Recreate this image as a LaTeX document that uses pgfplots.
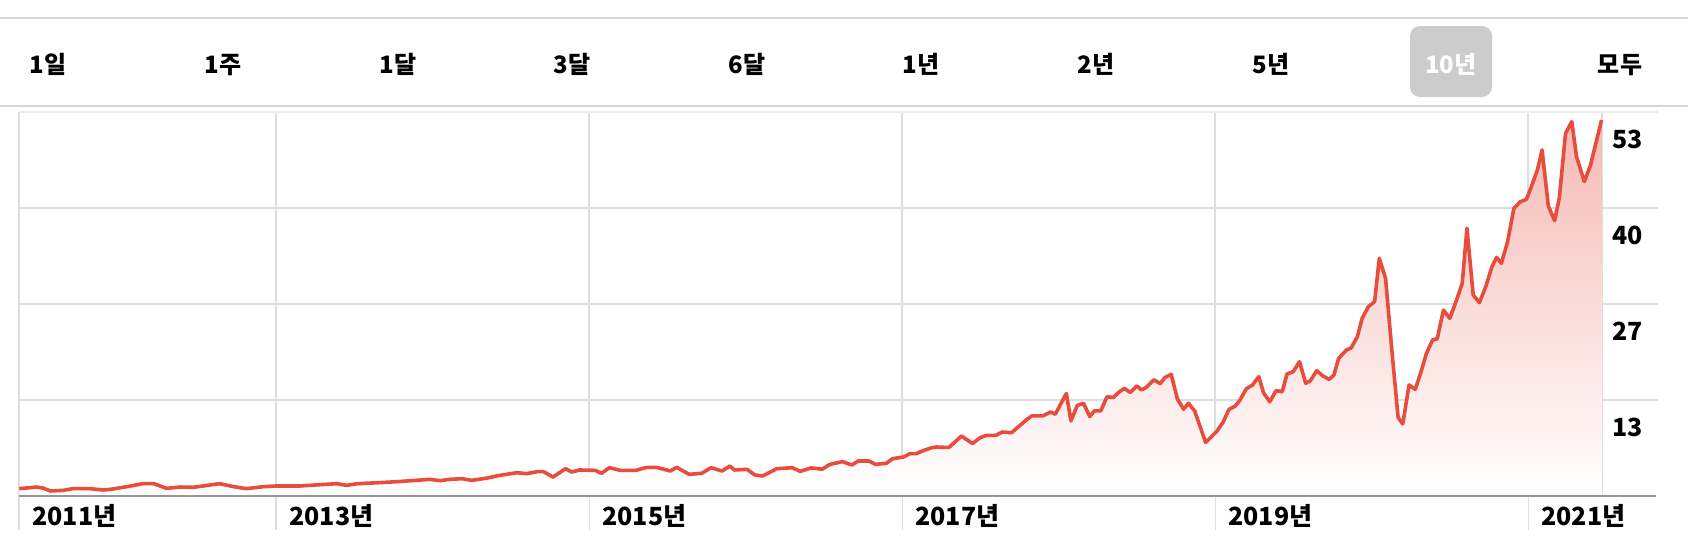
\documentclass[border=0pt]{standalone}
\usepackage{pgfplots}
\pgfplotsset{compat=1.18}
\usepackage{pgfplotstable}
\usepackage{fontspec}
\setmainfont{Noto Sans CJK KR}
\definecolor{linec}{RGB}{232,76,61}
\definecolor{gridc}{RGB}{222,222,222}
\definecolor{topc}{RGB}{236,236,236}
\definecolor{sepc}{RGB}{214,214,214}
\definecolor{basec}{RGB}{150,150,150}
\definecolor{boxc}{RGB}{204,204,204}
\definecolor{filltop}{RGB}{244,186,180}
\pgfplotstableread{
year value
2011.36 1.01
2011.47 1.24
2011.51 1.10
2011.56 0.69
2011.64 0.78
2011.70 1.01
2011.81 1.01
2011.90 0.83
2011.96 0.97
2012.07 1.38
2012.15 1.70
2012.22 1.70
2012.30 1.06
2012.39 1.24
2012.47 1.20
2012.58 1.52
2012.64 1.70
2012.73 1.29
2012.81 1.01
2012.92 1.29
2013.00 1.38
2013.15 1.38
2013.28 1.56
2013.39 1.70
2013.45 1.47
2013.52 1.70
2013.66 1.84
2013.79 2.00
2013.92 2.20
2013.98 2.30
2014.05 2.12
2014.11 2.30
2014.19 2.39
2014.25 2.16
2014.35 2.48
2014.43 2.85
2014.54 3.22
2014.60 3.08
2014.67 3.36
2014.71 3.36
2014.77 2.62
2014.85 3.77
2014.89 3.31
2014.94 3.59
2015.04 3.54
2015.08 3.13
2015.13 3.91
2015.20 3.54
2015.30 3.54
2015.37 3.96
2015.43 3.96
2015.52 3.45
2015.56 3.96
2015.64 2.99
2015.72 3.13
2015.78 3.91
2015.85 3.45
2015.90 4.14
2015.93 3.59
2016.01 3.68
2016.06 2.90
2016.11 2.76
2016.20 3.77
2016.30 3.91
2016.35 3.40
2016.42 3.88
2016.49 3.70
2016.54 4.37
2016.62 4.74
2016.68 4.28
2016.72 4.83
2016.79 4.83
2016.83 4.37
2016.90 4.51
2016.94 5.15
2017.01 5.38
2017.05 5.84
2017.09 5.84
2017.14 6.30
2017.19 6.67
2017.22 6.76
2017.30 6.70
2017.38 8.28
2017.45 7.25
2017.50 8.05
2017.54 8.37
2017.60 8.37
2017.64 8.83
2017.70 8.74
2017.80 10.60
2017.83 11.06
2017.90 11.06
2017.95 11.60
2017.98 11.29
2018.05 14.15
2018.08 10.37
2018.12 12.50
2018.16 12.80
2018.20 10.97
2018.23 11.75
2018.27 11.75
2018.31 13.70
2018.35 13.60
2018.39 14.40
2018.42 14.84
2018.46 14.30
2018.50 15.20
2018.53 14.65
2018.56 14.98
2018.61 16.04
2018.65 15.50
2018.68 16.36
2018.72 16.80
2018.76 13.36
2018.80 11.98
2018.83 12.80
2018.87 11.75
2018.94 7.40
2019.01 8.88
2019.05 10.12
2019.09 11.96
2019.13 12.42
2019.16 13.25
2019.20 14.80
2019.24 15.32
2019.28 16.47
2019.31 14.26
2019.35 13.00
2019.39 14.54
2019.43 14.40
2019.46 16.84
2019.50 17.16
2019.54 18.54
2019.58 15.55
2019.61 15.92
2019.65 17.30
2019.69 16.56
2019.73 16.10
2019.76 16.70
2019.79 19.00
2019.84 20.15
2019.87 20.43
2019.91 22.00
2019.94 24.50
2019.98 26.13
2020.02 26.82
2020.05 32.80
2020.09 30.04
2020.13 20.15
2020.17 10.86
2020.20 9.94
2020.24 15.32
2020.28 14.72
2020.32 17.39
2020.35 19.60
2020.39 21.53
2020.42 21.70
2020.46 25.67
2020.50 24.52
2020.54 26.82
2020.58 29.35
2020.61 36.95
2020.65 27.74
2020.69 26.69
2020.73 28.89
2020.77 31.65
2020.80 32.94
2020.83 32.11
2020.87 35.10
2020.91 39.70
2020.95 40.60
2020.99 40.95
2021.02 42.60
2021.06 45.00
2021.09 47.76
2021.13 40.03
2021.17 38.00
2021.20 41.09
2021.24 50.06
2021.28 51.67
2021.31 46.84
2021.36 43.39
2021.40 45.69
2021.47 51.90
}\prices
\begin{document}
\begin{tikzpicture}
\path[use as bounding box] (0,0) rectangle (844pt,274pt);
\fill[white] (0,0) rectangle (844pt,274pt);
\draw[sepc, line width=0.8pt] (0,265pt) -- (844pt,265pt);
\draw[sepc, line width=0.8pt] (0,221pt) -- (844pt,221pt);
\fill[boxc, rounded corners=5pt] (705pt,225.5pt) rectangle (746pt,261pt);
\foreach \x/\t in {24/1일, 111.5/1주, 199/1달, 286/3달, 373.5/6달, 460.5/1년, 548/2년, 635.5/5년, 810/모두}
  \node[anchor=base, inner sep=0pt, font=\bfseries\fontsize{12}{14}\selectfont] at (\x pt,237.5pt) {\t};
\node[anchor=base, inner sep=0pt, text=white, font=\bfseries\fontsize{12}{14}\selectfont] at (725.5pt,237.5pt) {10년};
% vertical grid extensions below the axis
\foreach \x in {9.5,138.0,294.6,451.2,607.7,764.2}
  \draw[gridc, line width=0.6pt] (\x pt,26pt) -- (\x pt,9pt);
% horizontal grid extensions to the right
\foreach \y in {74,122,170}
  \draw[gridc, line width=0.6pt] (801pt,\y pt) -- (829pt,\y pt);
\begin{axis}[
  at={(9.5pt,26pt)}, anchor=south west, scale only axis,
  width=791.5pt, height=192pt,
  xmin=2011.358, xmax=2021.473, ymin=0, ymax=53,
  axis line style={draw=none}, major tick length=0pt,
  xtick={2011.358,2013,2015,2017,2019,2021,2021.473},
  xticklabels={2011년,2013년,2015년,2017년,2019년,2021년,},
  ytick={13.25,26.5,39.75},
  yticklabels={13,27,40},
  extra y ticks={53}, extra y tick labels={53},
  extra y tick style={grid=none},
  yticklabel pos=right,
  grid=major, major grid style={gridc, line width=0.6pt},
  tick label style={font=\bfseries\fontsize{12.5}{14}\selectfont},
  xticklabel style={anchor=base west, inner sep=0pt, xshift=6.5pt, yshift=-14.5pt},
  yticklabel style={anchor=base west, inner sep=0pt, xshift=5pt, yshift=-18.2pt},
  clip=false,
]
\addplot[draw=none, shade, top color=filltop, bottom color=white] table[x=year,y=value]{\prices} \closedcycle;
\addplot[linec, line width=1.8pt, line join=round] table[x=year,y=value]{\prices};
\end{axis}
\draw[topc, line width=1.4pt] (9.5pt,218pt) -- (829pt,218pt);
\draw[basec, line width=1pt] (9.5pt,26pt) -- (828pt,26pt);
\end{tikzpicture}
\end{document}
